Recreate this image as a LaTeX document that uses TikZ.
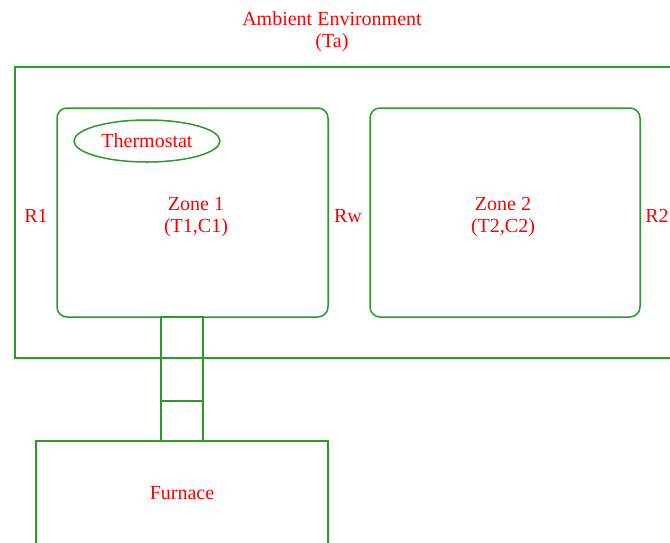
\documentclass[tikz,border=0pt]{standalone}
\usepackage{fontspec}
\setmainfont{Liberation Serif}
\usetikzlibrary{positioning,shapes.geometric}
\definecolor{leaf}{HTML}{2A9A2A}
\definecolor{ink}{HTML}{FF0000}
\tikzset{
  wall/.style  ={draw=leaf, line width=1.5pt, inner sep=0pt},
  zone/.style  ={wall, rounded corners=10pt, minimum width=271pt, minimum height=209pt},
  stat/.style  ={wall, ellipse, minimum width=146pt, minimum height=42pt, text=ink},
  txt/.style   ={text=ink, align=center, inner sep=0pt},
}

\begin{document}
\begin{tikzpicture}[x=1pt,y=-1pt,font=\fontsize{20}{22}\selectfont]
    \useasboundingbox (0,0) rectangle (670,542);
    \clip (0,0) rectangle (670,542);

    \node[txt] (title) at (332,32) {Ambient Environment\\(Ta)};
    \node[wall,minimum width=685pt,minimum height=291pt] (env) at (357.5,212.5) {};

    \node[zone] (z1) at (192.5,212.5) {};
    \node[zone,minimum width=270pt] (z2) at (505,212.5) {};
    \node[txt] (z1txt) at (196,217) {Zone 1\\(T1,C1)};
    \node[txt] (z2txt) at (503,217) {Zone 2\\(T2,C2)};
    \node[stat] (stat) at (147,141) {Thermostat};

    \node[txt] (r1) at (36,216) {R1};
    \node[txt] (rw) at (348,216) {Rw};
    \node[txt] (r2) at (657,216) {R2};

    \node[wall,minimum width=292pt,minimum height=104pt,text=ink] (furn) at (182,493) {Furnace};
    \node[wall,minimum width=42pt,minimum height=124pt] (duct) at (182,379) {};
    \draw[wall] ([yshift=41pt]duct.south west) -- ([yshift=41pt]duct.south east);
  \end{tikzpicture}
\end{document}
